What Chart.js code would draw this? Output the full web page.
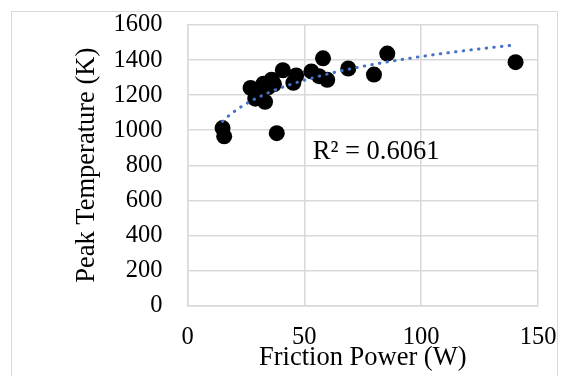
<!DOCTYPE html>
<html>
<head>
<meta charset="utf-8">
<script src="https://cdn.jsdelivr.net/npm/chart.js@4/dist/chart.umd.min.js"></script>
<style>
  html, body { margin: 0; padding: 0; background: #fff; overflow: hidden; }
  #marco { position: absolute; left: 11px; top: 11px; width: 545px; height: 420px; border: 1.5px solid #d9d9d9; }
  #grafico { position: absolute; left: 0; top: 0; }
</style>
</head>
<body>
<div id="marco"></div>
<canvas id="grafico" width="562" height="376"></canvas>
<script>
// datos
var potencia = [15.0, 15.7, 38.2, 27.0, 29.0, 33.2, 31.5, 32.5, 34.5, 36.0, 37.0,
                40.8, 45.3, 46.5, 53.0, 56.3, 58.0, 59.8, 68.8, 79.8, 85.5, 140.4];
var temperatura = [1012, 965, 983, 1241, 1180, 1162, 1210, 1265, 1245, 1288, 1262,
                   1342, 1270, 1312, 1335, 1308, 1410, 1287, 1352, 1317, 1437, 1388];
var ticksX = [0, 50, 100, 150];
var ticksY = [0, 200, 400, 600, 800, 1000, 1200, 1400, 1600];
var tituloX = 'Friction Power (W)';
var tituloY = 'Peak Temperature (K)';
var textoR2 = 'R\u00B2 = 0.6061';
var posR2 = [53.6, 875];

var fuente = 'Liberation Serif';
var gris = '#d9d9d9';

// linea de tendencia logaritmica (minimos cuadrados sobre ln x)
function ajusteLog(xs, ys) {
    var n = xs.length, sx = 0, sy = 0, sxx = 0, sxy = 0;
    for (var i = 0; i < n; i++) {
        var lx = Math.log(xs[i]);
        sx += lx; sy += ys[i]; sxx += lx * lx; sxy += lx * ys[i];
    }
    var a = (n * sxy - sx * sy) / (n * sxx - sx * sx);
    return { a: a, b: (sy - a * sx) / n };
}

var ajuste = ajusteLog(potencia, temperatura);
var xMin = Math.min.apply(null, potencia);
var xMax = Math.max.apply(null, potencia);
var tendencia = [];
for (var k = 0; k <= 100; k++) {
    var xv = xMin + (xMax - xMin) * k / 100;
    tendencia.push({ x: xv, y: ajuste.a * Math.log(xv) + ajuste.b });
}

var puntos = potencia.map(function (p, i) { return { x: p, y: temperatura[i] }; });

var etiquetaR2 = {
    id: 'etiquetaR2',
    afterDatasetsDraw: function (chart) {
        var ctx = chart.ctx;
        ctx.save();
        ctx.font = '26.5px "' + fuente + '"';
        ctx.fillStyle = '#000';
        ctx.textAlign = 'left';
        ctx.textBaseline = 'middle';
        ctx.fillText(textoR2, chart.scales.x.getPixelForValue(posR2[0]), chart.scales.y.getPixelForValue(posR2[1]));
        ctx.restore();
    }
};

function sinComa(v) { return String(v); }

new Chart(document.getElementById('grafico'), {
    type: 'scatter',
    data: {
        datasets: [{
            type: 'line',
            data: tendencia,
            borderColor: '#4472c4',
            borderWidth: 3,
            borderDash: [0.5, 7.2],
            borderCapStyle: 'round',
            pointRadius: 0,
            fill: false,
            tension: 0,
            order: 0
        }, {
            data: puntos,
            backgroundColor: '#000',
            borderColor: '#000',
            borderWidth: 0,
            pointRadius: 8,
            order: 1
        }]
    },
    options: {
        responsive: false,
        animation: false,
        events: [],
        layout: { padding: { left: 55, top: 25, right: 24, bottom: 0 } },
        plugins: { legend: { display: false }, tooltip: { enabled: false } },
        scales: {
            x: {
                type: 'linear',
                min: 0, max: 150,
                afterBuildTicks: function (s) { s.ticks = ticksX.map(function (v) { return { value: v }; }); },
                afterFit: function (s) { s.height = 70.5; s.paddingLeft = 0; s.paddingRight = 0; },
                grid: { color: gris, lineWidth: 1.5, drawTicks: false },
                border: { color: gris, width: 1.5 },
                ticks: { color: '#000', padding: 17, maxRotation: 0, autoSkip: false, callback: sinComa, font: { family: fuente, size: 24.5 } },
                title: { display: true, text: tituloX, color: '#000', padding: { top: 0, bottom: 2 }, font: { family: fuente, size: 26.5 } }
            },
            y: {
                type: 'linear',
                min: 0, max: 1600,
                afterBuildTicks: function (s) { s.ticks = ticksY.map(function (v) { return { value: v }; }); },
                afterFit: function (s) { s.width = 132.5; s.paddingTop = 0; s.paddingBottom = 0; },
                grid: { color: gris, lineWidth: 1.5, drawTicks: false },
                border: { color: gris, width: 1.5 },
                ticks: { color: '#000', padding: 25, autoSkip: false, callback: sinComa, font: { family: fuente, size: 24.5 } },
                title: { display: true, text: tituloY, color: '#000', padding: { top: 16, bottom: 0 }, font: { family: fuente, size: 26.5 } }
            }
        }
    },
    plugins: [etiquetaR2]
});
</script>
</body>
</html>
